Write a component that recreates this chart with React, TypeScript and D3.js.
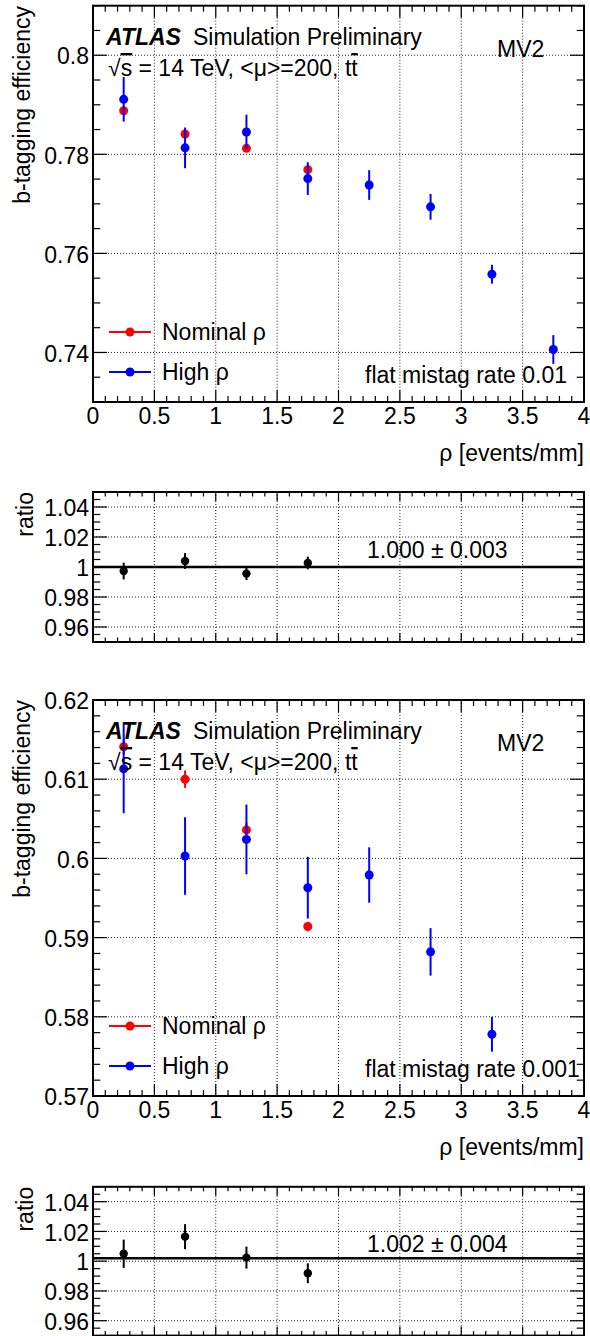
import React from "react";
import * as d3 from "d3";

// ---------- data ----------
const rhoCenters = [0.25, 0.75, 1.25, 1.75, 2.25, 2.75, 3.25, 3.75];
const xTickValues = [0, 0.5, 1, 1.5, 2, 2.5, 3, 3.5, 4];
const xTickLabels = ["0", "0.5", "1", "1.5", "2", "2.5", "3", "3.5", "4"];

// flat mistag rate 0.01
const effNominal01 = [0.7888, 0.7841, 0.7812, 0.7769];
const errNominal01 = [0.0006, 0.0006, 0.0006, 0.0006];
const effHigh01 = [0.7911, 0.7813, 0.7845, 0.7751, 0.7738, 0.7694, 0.7558, 0.7406];
const errHigh01 = [0.0045, 0.0041, 0.0035, 0.0033, 0.003, 0.0026, 0.0019, 0.0029];
const ratio01 = [0.9973, 1.004, 0.9956, 1.0027];
const ratioErr01 = [0.0056, 0.0053, 0.0043, 0.0042];
const fit01 = 1.0;
const fitLabel01 = "1.000 \u00b1 0.003";
const yTicks01 = [0.74, 0.76, 0.78, 0.8];
const yLabels01 = ["0.74", "0.76", "0.78", "0.8"];

// flat mistag rate 0.001
const effNominal001 = [0.6141, 0.61, 0.6036, 0.5914];
const errNominal001 = [0.001, 0.0011, 0.0009, 0.0006];
const effHigh001 = [0.6113, 0.6003, 0.6024, 0.5963, 0.5979, 0.5882, 0.5778];
const errHigh001 = [0.0056, 0.0049, 0.0044, 0.0039, 0.0035, 0.003, 0.0022];
const ratio001 = [1.005, 1.0165, 1.0024, 0.9919];
const ratioErr001 = [0.0095, 0.0084, 0.0074, 0.0067];
const fit001 = 1.002;
const fitLabel001 = "1.002 \u00b1 0.004";
const yTicks001 = [0.57, 0.58, 0.59, 0.6, 0.61, 0.62];
const yLabels001 = ["0.57", "0.58", "0.59", "0.6", "0.61", "0.62"];

const ratioTicks = [0.96, 0.98, 1, 1.02, 1.04];
const ratioLabels = ["0.96", "0.98", "1", "1.02", "1.04"];

const legendLabels = ["Nominal \u03c1", "High \u03c1"];

// ---------- style ----------
const FONT = "'Liberation Sans', Arial, Helvetica, sans-serif";
const FS = 23;
const RED = "#ff0000";
const BLUE = "#0000ff";
const X0 = 93;
const X1 = 584;

const xScale = d3.scaleLinear().domain([0, 4]).range([X0, X1]);

type AxisProps = {
  y: d3.ScaleLinear<number, number>;
  yMajor: number[];
  yLabels: string[];
  yMinorStep: number;
  xMajorLen: number;
  xMinorLen: number;
  yMajorLen: number;
  yMinorLen: number;
  xLabels: boolean;
  xLabelBaseline?: number;
};

function Axes(p: AxisProps) {
  const [d0, d1] = p.y.domain();
  const top = p.y(d1);
  const bottom = p.y(d0);
  const yMinor = d3.range(Math.round(d0 / p.yMinorStep), Math.round(d1 / p.yMinorStep) + 1).map((k) => k * p.yMinorStep);
  const xMinor = d3.range(0, 41).map((k) => k / 10);
  const gridX = xTickValues.filter((v) => v > 0 && v < 4);
  const gridY = p.yMajor.filter((v) => p.y(v) > top + 1 && p.y(v) < bottom - 1);
  return (
    <g>
      {gridX.map((v) => (
        <line key={"gx" + v} x1={xScale(v)} x2={xScale(v)} y1={top} y2={bottom} stroke="#222" strokeWidth={1} strokeDasharray="1 2" />
      ))}
      {gridY.map((v) => (
        <line key={"gy" + v} x1={X0} x2={X1} y1={p.y(v)} y2={p.y(v)} stroke="#222" strokeWidth={1} strokeDasharray="1 2" />
      ))}
      {xMinor.map((v, i) => {
        const len = i % 5 === 0 ? p.xMajorLen : p.xMinorLen;
        return (
          <g key={"xt" + i}>
            <line x1={xScale(v)} x2={xScale(v)} y1={bottom} y2={bottom - len} stroke="#000" strokeWidth={1.2} />
            <line x1={xScale(v)} x2={xScale(v)} y1={top} y2={top + len} stroke="#000" strokeWidth={1.2} />
          </g>
        );
      })}
      {yMinor.map((v, i) => {
        const major = p.yMajor.some((m) => Math.abs(m - v) < 1e-9);
        const len = major ? p.yMajorLen : p.yMinorLen;
        return (
          <g key={"yt" + i}>
            <line x1={X0} x2={X0 + len} y1={p.y(v)} y2={p.y(v)} stroke="#000" strokeWidth={1.2} />
            <line x1={X1} x2={X1 - len} y1={p.y(v)} y2={p.y(v)} stroke="#000" strokeWidth={1.2} />
          </g>
        );
      })}
      {p.yMajor.map((v, i) => (
        <text key={"yl" + i} x={89} y={p.y(v)} dy="0.4em" textAnchor="end" fontFamily={FONT} fontSize={FS}>
          {p.yLabels[i]}
        </text>
      ))}
      {p.xLabels &&
        xTickValues.map((v, i) => (
          <text key={"xl" + i} x={xScale(v)} y={p.xLabelBaseline} textAnchor="middle" fontFamily={FONT} fontSize={FS}>
            {xTickLabels[i]}
          </text>
        ))}
    </g>
  );
}

function Points({ y, vals, errs, color, r }: { y: d3.ScaleLinear<number, number>; vals: number[]; errs: number[]; color: string; r: number }) {
  return (
    <g>
      {vals.map((v, i) => (
        <g key={i}>
          <line x1={xScale(rhoCenters[i])} x2={xScale(rhoCenters[i])} y1={y(v - errs[i])} y2={y(v + errs[i])} stroke={color} strokeWidth={2} />
          <circle cx={xScale(rhoCenters[i])} cy={y(v)} r={r} fill={color} />
        </g>
      ))}
    </g>
  );
}

function Frame({ y }: { y: d3.ScaleLinear<number, number> }) {
  const [d0, d1] = y.domain();
  return <rect x={X0} y={y(d1)} width={X1 - X0} height={y(d0) - y(d1)} fill="none" stroke="#000" strokeWidth={2} />;
}

function MainPanel(props: {
  off: number;
  y: d3.ScaleLinear<number, number>;
  yTicks: number[];
  yLabels: string[];
  yMinorStep: number;
  nom: number[];
  nomErr: number[];
  high: number[];
  highErr: number[];
  mistag: string;
}) {
  const { off, y } = props;
  return (
    <g>
      <Axes y={y} yMajor={props.yTicks} yLabels={props.yLabels} yMinorStep={props.yMinorStep} xMajorLen={12} xMinorLen={6} yMajorLen={14} yMinorLen={7.3} xLabels={true} xLabelBaseline={424 + off} />
      <Points y={y} vals={props.nom} errs={props.nomErr} color={RED} r={4.5} />
      <Points y={y} vals={props.high} errs={props.highErr} color={BLUE} r={4.5} />
      <Frame y={y} />
      <text x={106} y={45 + off} fontFamily={FONT} fontSize={FS} fontWeight="bold" fontStyle="italic">ATLAS</text>
      <text x={193} y={45 + off} fontFamily={FONT} fontSize={FS}>Simulation Preliminary</text>
      <text x={108} y={76 + off} fontFamily={FONT} fontSize={FS}>
        {"\u221a"}
        <tspan style={{ textDecoration: "overline" }}>s</tspan>
        {" = 14 TeV, <\u03bc>=200, t"}
        <tspan style={{ textDecoration: "overline" }}>t</tspan>
      </text>
      <text x={497} y={57 + off} fontFamily={FONT} fontSize={FS}>MV2</text>
      {/* legend */}
      <line x1={109} x2={151} y1={332 + off} y2={332 + off} stroke={RED} strokeWidth={2} />
      <circle cx={130} cy={332 + off} r={4.5} fill={RED} />
      <text x={162} y={340 + off} fontFamily={FONT} fontSize={FS}>{legendLabels[0]}</text>
      <line x1={109} x2={151} y1={372 + off} y2={372 + off} stroke={BLUE} strokeWidth={2} />
      <circle cx={130} cy={372 + off} r={4.5} fill={BLUE} />
      <text x={162} y={380 + off} fontFamily={FONT} fontSize={FS}>{legendLabels[1]}</text>
      <text x={365} y={383 + off} fontFamily={FONT} fontSize={FS}>{props.mistag}</text>
      <text x={584} y={461 + off} textAnchor="end" fontFamily={FONT} fontSize={FS}>{"\u03c1 [events/mm]"}</text>
      <text transform={`translate(29.5,${6 + off}) rotate(-90)`} textAnchor="end" fontFamily={FONT} fontSize={FS}>b-tagging efficiency</text>
    </g>
  );
}

function RatioPanel({ y, vals, errs, fit, label, labelY }: { y: d3.ScaleLinear<number, number>; vals: number[]; errs: number[]; fit: number; label: string; labelY: number }) {
  const top = y(y.domain()[1]);
  return (
    <g>
      <Axes y={y} yMajor={ratioTicks} yLabels={ratioLabels} yMinorStep={0.005} xMajorLen={9} xMinorLen={4.5} yMajorLen={14} yMinorLen={7.3} xLabels={false} />
      <line x1={X0} x2={X1} y1={y(fit)} y2={y(fit)} stroke="#000" strokeWidth={2.6} />
      <Points y={y} vals={vals} errs={errs} color="#000" r={4.2} />
      <Frame y={y} />
      <text x={367} y={labelY} fontFamily={FONT} fontSize={FS}>{label}</text>
      <text transform={`translate(33,${top}) rotate(-90)`} textAnchor="end" fontFamily={FONT} fontSize={FS}>ratio</text>
    </g>
  );
}

export default function App() {
  const OFF = 694;
  const y01 = d3.scaleLinear().domain([0.73, 0.81]).range([402, 5.7]);
  const y001 = d3.scaleLinear().domain([0.57, 0.62]).range([1096, 700]);
  const yR1 = d3.scaleLinear().domain([0.95, 1.05]).range([642, 492]);
  const yR2 = d3.scaleLinear().domain([0.95, 1.05]).range([1335.6, 1186.8]);
  return (
    <svg width={590} height={1336} style={{ position: "absolute", left: 0, top: 0, background: "#fff" }}>
      <rect x={0} y={0} width={590} height={1336} fill="#fff" />
      <MainPanel off={0} y={y01} yTicks={yTicks01} yLabels={yLabels01} yMinorStep={0.005} nom={effNominal01} nomErr={errNominal01} high={effHigh01} highErr={errHigh01} mistag="flat mistag rate 0.01" />
      <RatioPanel y={yR1} vals={ratio01} errs={ratioErr01} fit={fit01} label={fitLabel01} labelY={558} />
      <MainPanel off={OFF} y={y001} yTicks={yTicks001} yLabels={yLabels001} yMinorStep={0.002} nom={effNominal001} nomErr={errNominal001} high={effHigh001} highErr={errHigh001} mistag="flat mistag rate 0.001" />
      <RatioPanel y={yR2} vals={ratio001} errs={ratioErr001} fit={fit001} label={fitLabel001} labelY={558 + OFF} />
    </svg>
  );
}
